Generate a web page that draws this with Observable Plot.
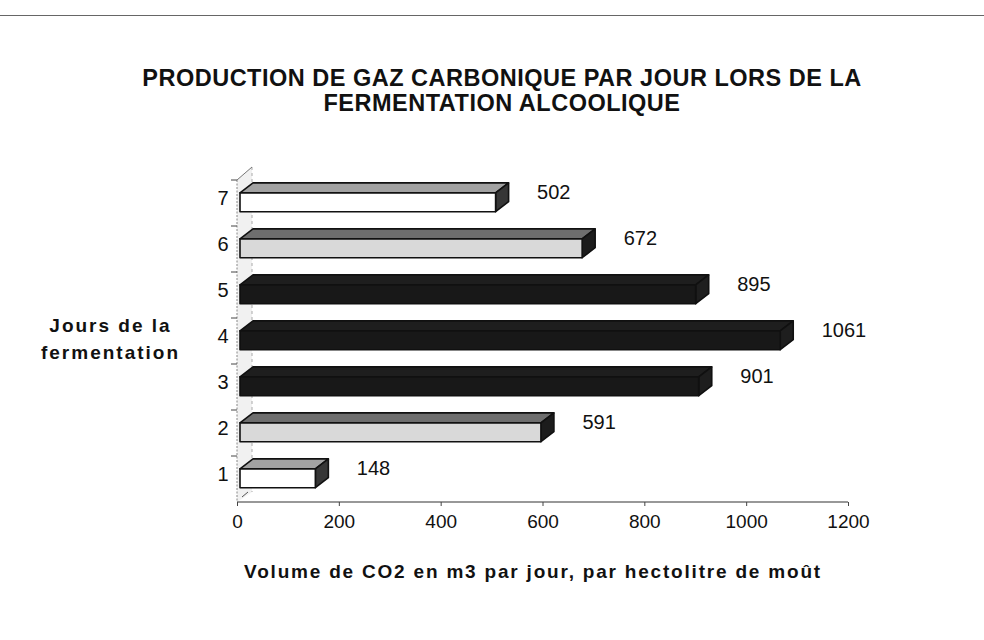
<!DOCTYPE html>
<html><head><meta charset="utf-8">
<script src="https://cdn.jsdelivr.net/npm/d3@7"></script>
<script src="https://cdn.jsdelivr.net/npm/@observablehq/plot@0.6"></script>
<style>
body{margin:0;background:#fff;font-family:"Liberation Sans",Arial,sans-serif;}
#page{position:relative;width:984px;height:640px;overflow:hidden;background:#fff}
#rule{position:absolute;left:0;top:15px;width:984px;height:0;border-top:1.5px solid #666}
#title{position:absolute;left:10px;top:66px;width:984px;text-align:center;font-weight:bold;font-size:23.5px;line-height:25px;letter-spacing:0.5px;color:#111;white-space:nowrap}
#chart{position:absolute;left:0;top:130px}
</style></head><body>
<div id="page"><div id="rule"></div><div id="title"></div><div id="chart"></div></div>
<script>
// ---- data ----
const titleLines = ["PRODUCTION DE GAZ CARBONIQUE PAR JOUR LORS DE LA", "FERMENTATION ALCOOLIQUE"];
const days = [1, 2, 3, 4, 5, 6, 7];
const volumes = [148, 591, 901, 1061, 895, 672, 502];
const xTicks = [0, 200, 400, 600, 800, 1000, 1200];
const yTitle = "Jours de la\nfermentation";
const xTitle = "Volume de CO2 en m3 par jour, par hectolitre de moût";

const data = days.map((d, i) => ({day: d, volume: volumes[i]}));

// ---- styles ----
const shades = {
  light: {front: "#ffffff", top: "#a2a2a2", side: "#363636", stroke: "#111"},
  mid:   {front: "#d9d9d9", top: "#6e6e6e", side: "#1c1c1c", stroke: "#111"},
  dark:  {front: "#181818", top: "#1e1e1e", side: "#1e1e1e", stroke: "#101010"}
};
const shadeOf = d => (d === 1 || d === 7) ? "light" : (d === 2 || d === 6) ? "mid" : "dark";
const DX = 13, DY = 10, SHIFT = 3;

document.getElementById("title").innerHTML = titleLines.join("<br>");

function draw3D(index, scales, values, dim) {
  const {x, y} = scales;
  const g = d3.create("svg:g");
  const step = Math.abs(y(days[1]) - y(days[0]));
  const x0 = x(0);
  const yTop = Math.min(...days.map(d => y(d)));
  const yBot = dim.height - dim.marginBottom;
  const xEnd = dim.width - dim.marginRight;
  // side wall
  g.append("polygon")
    .attr("points", [[x0, yBot], [x0, yTop], [x0 + DX + 2, yTop - DY - 3], [x0 + DX + 2, yBot - DY]].join(" "))
    .attr("fill", "#f1f1f1");
  g.append("line").attr("x1", x0).attr("x2", x0).attr("y1", yTop).attr("y2", yBot)
    .attr("stroke", "#888").attr("stroke-dasharray", "2,1.5");
  g.append("line").attr("x1", x0 + DX + 2).attr("x2", x0 + DX + 2).attr("y1", yTop - DY - 3).attr("y2", yBot - DY)
    .attr("stroke", "#aaa").attr("stroke-dasharray", "3,3");
  g.append("line").attr("x1", x0).attr("x2", x0 + DX + 2).attr("y1", yTop).attr("y2", yTop - DY - 3)
    .attr("stroke", "#777").attr("stroke-width", 1);
  g.append("line").attr("x1", x0 + 5).attr("x2", x0 + 11).attr("y1", yBot - 5).attr("y2", yBot - 10)
    .attr("stroke", "#555").attr("stroke-width", 1);
  // band boundary ticks
  days.forEach(d => {
    g.append("line").attr("x1", x0 - 6).attr("x2", x0).attr("y1", y(d)).attr("y2", y(d))
      .attr("stroke", "#444");
  });
  // x axis line
  g.append("line").attr("x1", x0).attr("x2", xEnd).attr("y1", yBot).attr("y2", yBot)
    .attr("stroke", "#333").attr("stroke-width", 1.2);
  // bars
  for (const i of index) {
    const d = data[i];
    const s = shades[shadeOf(d.day)];
    const L = x(0) + SHIFT, R = x(d.volume) + SHIFT;
    const yb = y(d.day);
    const ft = yb + step * 0.28, fb = yb + step * 0.69;
    const bar = g.append("g").attr("stroke", s.stroke).attr("stroke-width", 1.6).attr("stroke-linejoin", "round");
    bar.append("polygon").attr("points", [[L, ft], [R, ft], [R + DX, ft - DY], [L + DX, ft - DY]].join(" ")).attr("fill", s.top);
    bar.append("polygon").attr("points", [[R, ft], [R + DX, ft - DY], [R + DX, fb - DY], [R, fb]].join(" ")).attr("fill", s.side);
    bar.append("rect").attr("x", L).attr("y", ft).attr("width", R - L).attr("height", fb - ft).attr("fill", s.front);
  }
  return g.node();
}

const spaced = sp => (index, scales, values, dim, context, next) => {
  const n = next(index, scales, values, dim, context);
  n.setAttribute("letter-spacing", sp);
  return n;
};

const chart = Plot.plot({
  width: 984,
  height: 510,
  marginTop: 50,
  marginBottom: 138,
  marginLeft: 237,
  marginRight: 136,
  style: {fontFamily: "'Liberation Sans', Arial, sans-serif", color: "#111", background: "#fff"},
  x: {domain: [0, 1200], ticks: xTicks},
  y: {type: "band", domain: days.slice().reverse(), padding: 0},
  marks: [
    Plot.barX(data, {x: "volume", y: "day", render: draw3D}),
    Plot.axisX({ticks: xTicks, tickFormat: d => String(d), tickSize: 4, tickPadding: 8, fontSize: 19, label: null, stroke: "#444"}),
    Plot.axisY({tickSize: 0, tickPadding: 9, fontSize: 20, dy: -5, label: null}),
    Plot.text(data, {x: "volume", y: "day", text: d => String(d.volume), dx: 44, dy: -11, textAnchor: "start", fontSize: 20, fill: "#111"}),
    Plot.text([yTitle], {frameAnchor: "left", dx: -127, dy: -5, textAnchor: "middle", fontSize: 19, fontWeight: "bold", lineHeight: 1.42, fill: "#111", render: spaced(2)}),
    Plot.text([xTitle], {frameAnchor: "bottom", dy: 75, dx: -10, textAnchor: "middle", fontSize: 19, fontWeight: "bold", fill: "#111", render: spaced(1.8)})
  ]
});
document.getElementById("chart").appendChild(chart);
</script>
</body></html>
